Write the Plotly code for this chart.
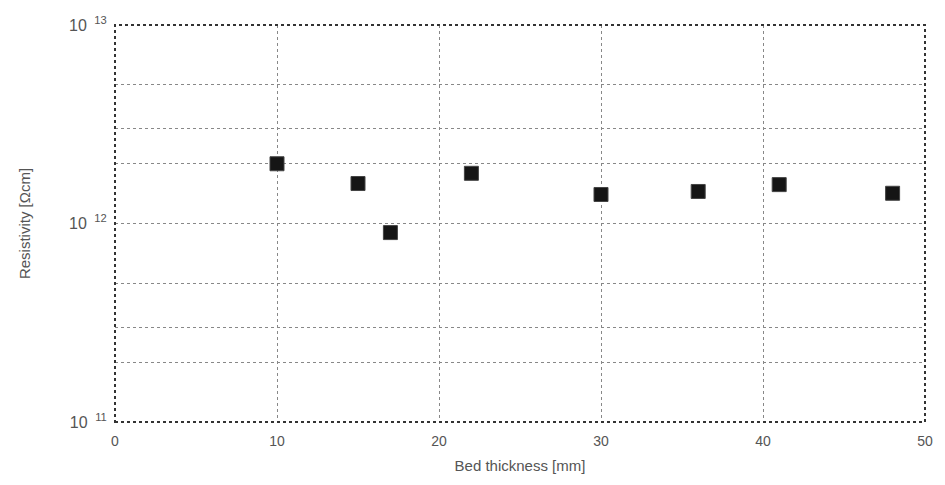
import plotly.graph_objects as go

bed_thickness_mm = [10, 15, 17, 22, 30, 36, 41, 48]
resistivity_ohm_cm = [2.0e12, 1.59e12, 0.90e12, 1.79e12, 1.40e12, 1.45e12, 1.57e12, 1.42e12]

x_tick_vals = [0, 10, 20, 30, 40, 50]
x_tick_text = ["0", "10", "20", "30", "40", "50"]
y_tick_vals = [1e11, 2e11, 3e11, 5e11, 1e12, 2e12, 3e12, 5e12, 1e13]
y_tick_text = ["10 <sup> 11</sup>", "", "", "", "10 <sup> 12</sup>", "", "", "", "10 <sup> 13</sup>"]

fig = go.Figure()
fig.add_trace(go.Scatter(
    x=bed_thickness_mm, y=resistivity_ohm_cm, mode="markers",
    marker=dict(symbol="square", size=14, color="#151515",
                line=dict(width=1, color="#444444")),
    showlegend=False,
))

font = dict(family="Liberation Sans, Arial, sans-serif", size=14, color="#555555")
yfont = dict(family="Liberation Sans, Arial, sans-serif", size=16, color="#555555")

fig.update_layout(
    width=945, height=485,
    margin=dict(l=115, r=14, t=25, b=63),
    paper_bgcolor="white", plot_bgcolor="white",
    font=font,
    xaxis=dict(
        range=[0, 50], tickvals=x_tick_vals, ticktext=x_tick_text,
        showgrid=True, gridcolor="#888888", gridwidth=1, griddash="dot",
        zeroline=False, showline=False, tickfont=font,
        ticks="outside", ticklen=6, tickcolor="white",
        title=dict(text="Bed thickness [mm]", font=dict(font, size=15), standoff=12),
    ),
    yaxis=dict(
        type="log", range=[11, 13], tickvals=y_tick_vals, ticktext=y_tick_text,
        showgrid=True, gridcolor="#888888", gridwidth=1, griddash="dot",
        zeroline=False, showline=False, tickfont=yfont,
        ticks="outside", ticklen=4, tickcolor="white",
        title=dict(text="Resistivity [Ωcm]", font=dict(font, size=15), standoff=34),
    ),
    shapes=[dict(type="rect", xref="paper", yref="paper", x0=0, y0=0, x1=1, y1=1,
                 line=dict(color="#333333", width=2, dash="dot"), layer="above")],
)

fig.write_html("out.html")
